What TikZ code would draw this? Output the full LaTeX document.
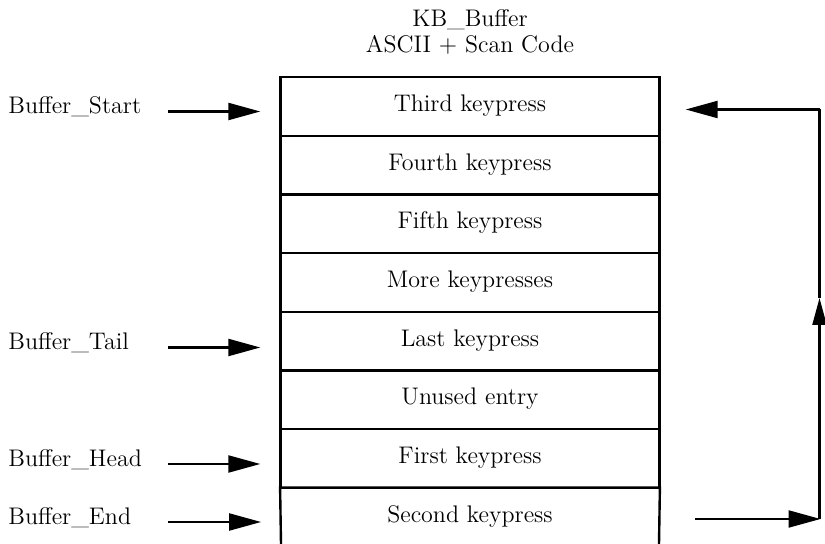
\documentclass[tikz,border=0pt]{standalone}
\usepackage{fontspec}
\usetikzlibrary{arrows.meta,calc}
\begin{document}
\begin{tikzpicture}[x=0.5pt,y=-0.5pt,
  every node/.style={font=\fontsize{12}{14}\selectfont, inner sep=0pt},
  rowbox/.style={minimum width=189.5pt, minimum height=29.35pt, text height=0.7em, text depth=0.2em, draw, line width=1.2pt},
  rowopen/.style={minimum width=189.5pt, minimum height=29.35pt, text height=0.7em, text depth=0.2em},
  lbl/.style={anchor=base west},
  ttl/.style={anchor=base},
  arr/.style={line width=1.1pt, -{Triangle[length=16pt,width=8.5pt]}},
  midarr/.style={line width=1.1pt, -{Triangle[length=13.5pt,width=7pt]}},
  ln/.style={line width=1.1pt}]
\useasboundingbox (0,0) rectangle (825,544);

% title
\node[ttl] (t1) at (470,27) {KB\_Buffer};
\node[ttl] (t2) at (470,53) {ASCII $+$ Scan Code};

% buffer rows
\node[rowbox] (r1) at (470,106.4) {Third keypress};
\node[rowbox] (r2) at (470,165.1) {Fourth keypress};
\node[rowbox] (r3) at (470,223.8) {Fifth keypress};
\node[rowbox] (r4) at (470,282.5) {More keypresses};
\node[rowbox] (r5) at (470,341.2) {Last keypress};
\node[rowbox] (r6) at (470,399.9) {Unused entry};
\node[rowbox] (r7) at (470,458.6) {First keypress};
\node[rowopen] (r8) at (470,517.3) {Second keypress};
\coordinate (b8l) at (281,544);
\coordinate (b8r) at (659,544);
\draw[line width=1.2pt] (b8l) -- (r8.north west) -- (r8.north east) -- (b8r);

% pointer labels
\node[lbl] (bs) at (8,114) {Buffer\_Start};
\node[lbl] (bt) at (8,350) {Buffer\_Tail};
\node[lbl] (bh) at (8,466.5) {Buffer\_Head};
\node[lbl] (be) at (8,524.5) {Buffer\_End};

\coordinate (as) at (168,111.5);
\coordinate (at) at (168,347.5);
\coordinate (ah) at (168,464);
\coordinate (ae) at (168,522);
\draw[arr, shorten >=9.5pt] (as) -- (as -| r1.west);
\draw[arr, shorten >=9.5pt] (at) -- (at -| r5.west);
\draw[arr, shorten >=9.5pt] (ah) -- (ah -| r7.west);
\draw[arr, shorten >=9.5pt] (ae) -- (ae -| r8.west);

% wrap-around loop
\coordinate (w0) at (695,519);
\coordinate (w1) at (819.5,519);
\coordinate (wm) at (819.5,298);
\coordinate (w2) at (819.5,109.5);
\draw[arr, shorten >=-0.5pt] (w0) -- (w1);
\draw[midarr] (w1) -- (wm);
\draw[ln] (wm) -- (w2);
\draw[arr, shorten >=12.5pt] (w2) -- (w2 -| r1.east);
\end{tikzpicture}
\end{document}
